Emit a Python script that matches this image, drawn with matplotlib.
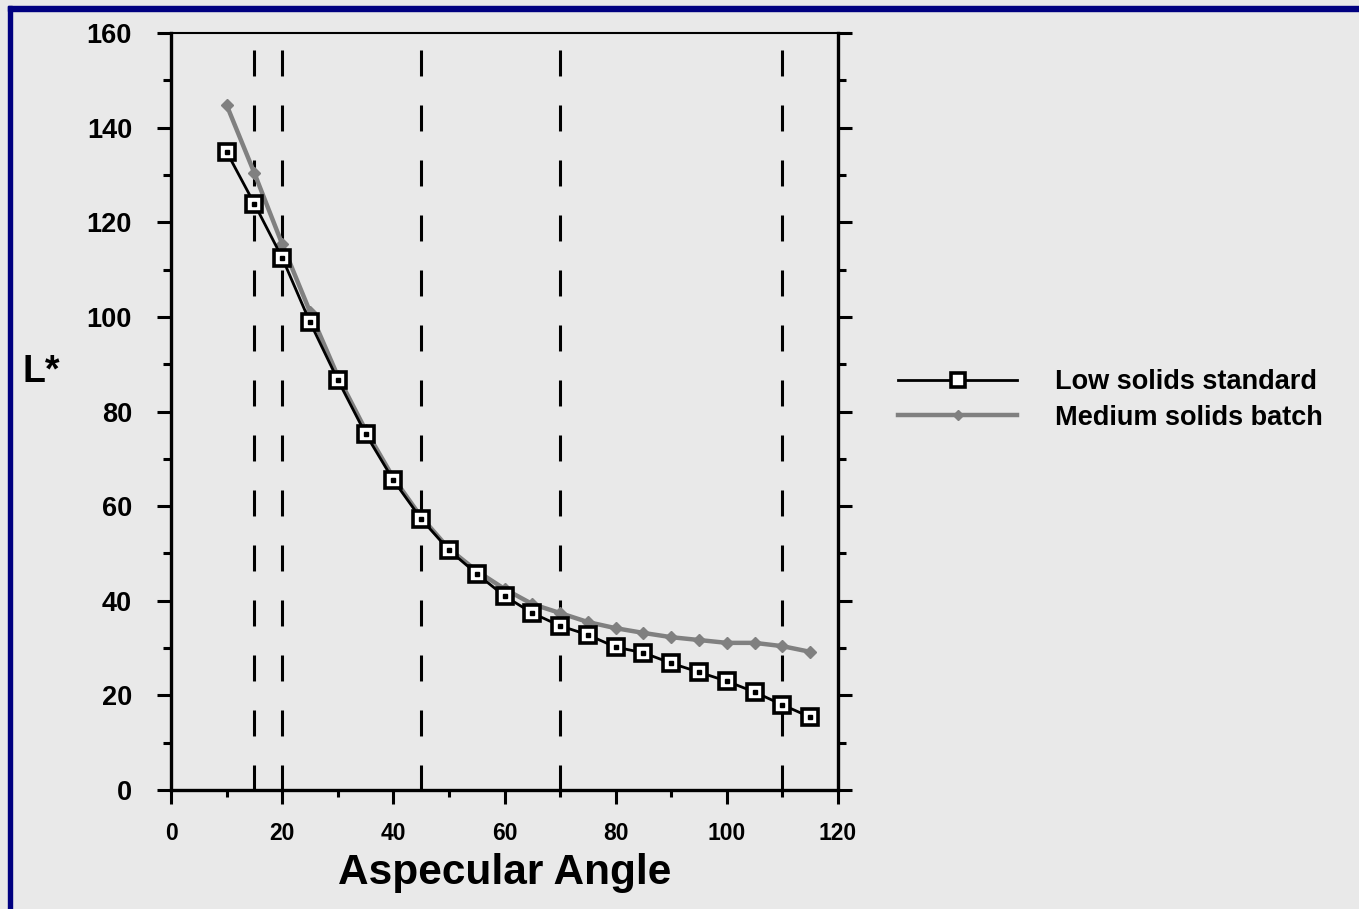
import numpy as np
import matplotlib
matplotlib.use("Agg")
import matplotlib.pyplot as plt
from matplotlib.patches import Rectangle
from matplotlib.ticker import MultipleLocator

plt.rcParams['font.family'] = ['Liberation Sans', 'DejaVu Sans']
plt.rcParams['font.weight'] = 'bold'

# aspecular angles (deg) and L* readings
angle = [10, 15, 20, 25, 30, 35, 40, 45, 50, 55, 60, 65, 70, 75, 80, 85, 90, 95, 100, 105, 110, 115]
low_solids = [134.9, 123.9, 112.5, 98.9, 86.7, 75.3, 65.5, 57.3, 50.7, 45.7, 41.0, 37.4,
              34.7, 32.8, 30.2, 29.0, 26.8, 24.9, 23.0, 20.7, 18.0, 15.4]
medium_solids = [144.8, 130.4, 115.4, 101.1, 87.5, 76.1, 66.0, 57.7, 51.0, 46.3, 42.5, 39.3,
                 37.4, 35.5, 34.2, 33.2, 32.3, 31.7, 31.1, 31.1, 30.4, 29.2]
series_names = ['Low solids standard', 'Medium solids batch']

# measurement geometries marked with dashed lines
geometries = [15, 20, 45, 70, 110]

bg = '#e9e9e9'
W, H = 1359, 909
fig = plt.figure(figsize=(W / 100, H / 100), dpi=100, facecolor=bg)

# navy frame along top and left edges
fig.patches.append(Rectangle((8 / W, 0), 4 / W, 1 - 6 / H, transform=fig.transFigure,
                             color='#000080', zorder=10))
fig.patches.append(Rectangle((8 / W, 1 - 11 / H), 1, 5 / H, transform=fig.transFigure,
                             color='#000080', zorder=10))

ax = fig.add_axes([171 / W, 1 - 790 / H, (838 - 171) / W, (790 - 33) / H])
ax.set_facecolor(bg)

for g in geometries:
    ax.plot([g, g], [156.4, 0], color='black', lw=2.2, dashes=(8.5, 9.5), zorder=1)

ax.plot(angle, medium_solids, color='#808080', lw=3.2, marker='D', ms=6.5,
        mec='#808080', mfc='#808080', label=series_names[1], zorder=2)
ax.plot(angle, low_solids, color='black', lw=2.0, marker='s', ms=12,
        mfc='white', mec='black', mew=2.6, label=series_names[0], zorder=3)
ax.plot(angle, low_solids, ls='none', marker='s', ms=2.4, color='black', zorder=4)

ax.set_xlim(0, 120)
ax.set_ylim(0, 160)
ax.xaxis.set_major_locator(MultipleLocator(20))
ax.xaxis.set_minor_locator(MultipleLocator(10))
ax.yaxis.set_major_locator(MultipleLocator(20))
ax.yaxis.set_minor_locator(MultipleLocator(10))

for side in ['left', 'right', 'bottom']:
    ax.spines[side].set_linewidth(2.4)
ax.spines['top'].set_linewidth(1.5)

ax.tick_params(axis='y', which='both', direction='out', left=True, right=True,
               labelsize=19.5, width=2.2, pad=18)
ax.tick_params(axis='y', which='major', length=10)
ax.tick_params(axis='y', which='minor', length=6)
ax.tick_params(axis='x', which='both', direction='out', labelsize=16.5, width=2.2, pad=13)
ax.tick_params(axis='x', which='major', length=10)
ax.tick_params(axis='x', which='minor', length=5)
for lab in ax.get_xticklabels() + ax.get_yticklabels():
    lab.set_fontweight('bold')

ax.set_xlabel('Aspecular Angle', fontsize=30.5, fontweight='bold', labelpad=6)
fig.text(22 / W, 1 - 372 / H, 'L*', fontsize=27, fontweight='bold', va='center', ha='left')

handles, labels = ax.get_legend_handles_labels()
leg = fig.legend(handles[::-1], labels[::-1], loc='center left',
                 bbox_to_anchor=(898 / W, 1 - 400 / H), frameon=False,
                 prop={'size': 19.5, 'weight': 'bold'}, handlelength=4.4,
                 handletextpad=1.4, labelspacing=0.35, borderpad=0, borderaxespad=0,
                 markerscale=0.8)

fig.savefig('out.png', dpi=100, facecolor=bg)
